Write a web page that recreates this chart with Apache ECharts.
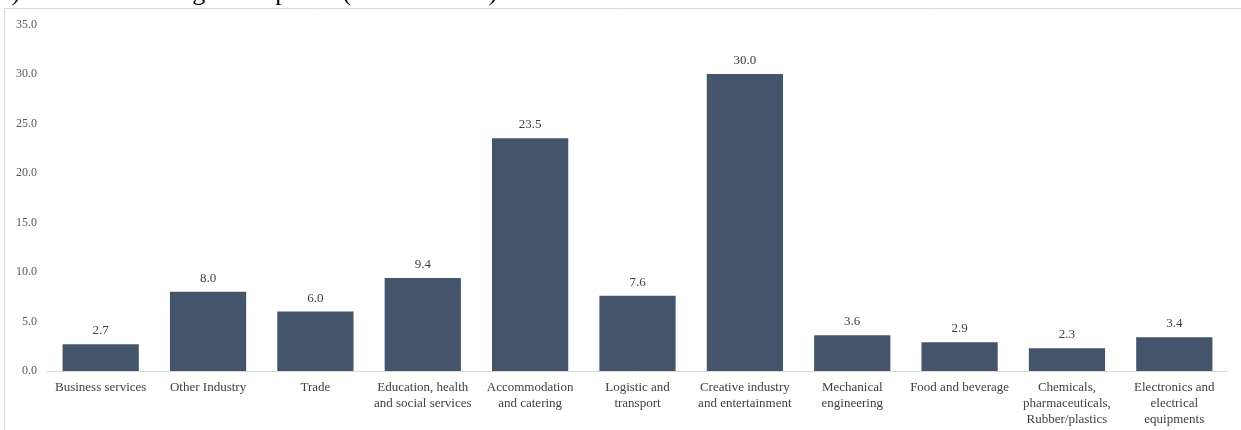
<!DOCTYPE html>
<html>
<head>
<meta charset="utf-8">
<script src="https://cdn.jsdelivr.net/npm/echarts@6/dist/echarts.min.js"></script>
<style>
  html, body { margin: 0; padding: 0; background: #fff; }
  #chart { width: 1241px; height: 430px; }
</style>
</head>
<body>
<div id="chart"></div>
<script>
// Sectors and shares (%) for medium and large enterprises
var categories = [
  'Business services',
  'Other Industry',
  'Trade',
  'Education, health\nand social services',
  'Accommodation\nand catering',
  'Logistic and\ntransport',
  'Creative industry\nand entertainment',
  'Mechanical\nengineering',
  'Food and beverage',
  'Chemicals,\npharmaceuticals,\nRubber/plastics',
  'Electronics and\nelectrical\nequipments'
];
var values = [2.7, 8.0, 6.0, 9.4, 23.5, 7.6, 30.0, 3.6, 2.9, 2.3, 3.4];
var yTicks = { min: 0, max: 35, interval: 5 };
var titleText = 'c) Medium and large enterprises (> 50 workers)';

var serif = '"Liberation Serif", "Times New Roman", serif';
var chart = echarts.init(document.getElementById('chart'));

chart.setOption({
  animation: false,
  grid: { left: 47, right: 13, top: 24.5, bottom: 59 },
  graphic: [
    {
      type: 'text',
      x: 0,
      y: -7,
      silent: true,
      style: {
        text: titleText,
        font: '26px ' + serif,
        fill: '#000',
        verticalAlign: 'middle'
      }
    },
    {
      type: 'line',
      silent: true,
      shape: { x1: 4, y1: 8.5, x2: 1241, y2: 8.5 },
      style: { stroke: '#d9d9d9', lineWidth: 1 }
    },
    {
      type: 'line',
      silent: true,
      shape: { x1: 4.5, y1: 8, x2: 4.5, y2: 430 },
      style: { stroke: '#d9d9d9', lineWidth: 1 }
    }
  ],
  xAxis: {
    type: 'category',
    data: categories,
    axisLine: { lineStyle: { color: '#d9d9d9', width: 1 } },
    axisTick: { show: false },
    axisLabel: {
      interval: 0,
      color: '#404040',
      fontFamily: serif,
      fontSize: 13,
      lineHeight: 16,
      margin: 9
    }
  },
  yAxis: {
    type: 'value',
    min: yTicks.min,
    max: yTicks.max,
    interval: yTicks.interval,
    axisLine: { show: false },
    axisTick: { show: false },
    splitLine: { show: false },
    axisLabel: {
      color: '#595959',
      fontFamily: serif,
      fontSize: 12,
      margin: 10,
      formatter: function (v) { return v.toFixed(1); }
    }
  },
  series: [{
    type: 'bar',
    data: values,
    barCategoryGap: '29%',
    itemStyle: { color: '#44546A' },
    label: {
      show: true,
      position: 'top',
      distance: 7,
      color: '#404040',
      fontFamily: serif,
      fontSize: 13,
      formatter: function (p) { return p.value.toFixed(1); }
    }
  }]
});
</script>
</body>
</html>
